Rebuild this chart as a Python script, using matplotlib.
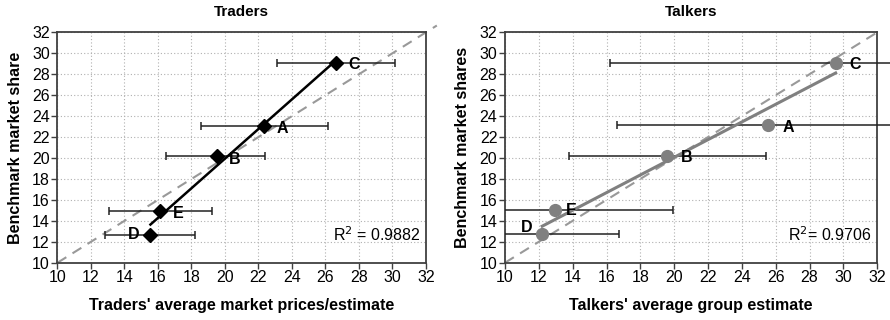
import numpy as np
import matplotlib
matplotlib.use("Agg")
import matplotlib.pyplot as plt
from matplotlib.patches import Rectangle

plt.rcParams['font.family'] = ['Liberation Sans', 'DejaVu Sans']

labels = ["A", "B", "C", "D", "E"]

# Traders
tr_x = [22.35, 19.5, 26.65, 15.55, 16.15]
tr_y = [23.1, 20.15, 29.1, 12.67, 14.97]
tr_lo = [18.55, 16.5, 23.1, 12.83, 13.05]
tr_hi = [26.14, 22.4, 30.14, 18.23, 19.24]
tr_r2 = "R$^2$ = 0.9882"

# Talkers
tk_x = [25.56, 19.55, 29.54, 12.2, 12.95]
tk_y = [23.15, 20.2, 29.1, 12.72, 15.0]
tk_lo = [16.62, 13.8, 16.18, 7.66, 5.95]
tk_hi = [34.5, 25.4, 42.9, 16.74, 19.95]
tk_r2 = "R$^2$= 0.9706"

ticks = list(range(10, 33, 2))

FS = 11.5

fig = plt.figure(figsize=(8.9, 3.2), dpi=100)
ax1 = fig.add_axes([0.0646, 0.179, 0.4140, 0.720])
ax2 = fig.add_axes([0.5674, 0.179, 0.4183, 0.720])

lbl_off = {
    "tr": {"A": (9, -2, "left"), "B": (9, -2, "left"), "C": (9, -1, "left"),
           "D": (-8, 0, "right"), "E": (9, -2, "left")},
    "tk": {"A": (10, -2, "left"), "B": (10, -1, "left"), "C": (10, -1, "left"),
           "D": (-7, 5, "right"), "E": (8, 0, "left")},
}

def setup(ax, title, xlabel, ylabel):
    ax.set_xlim(10, 32)
    ax.set_ylim(10, 32)
    ax.set_xticks(ticks)
    ax.set_yticks(ticks)
    ax.grid(True, color='#b0b0b0', linestyle=(0, (1, 2)), linewidth=0.8)
    ax.set_axisbelow(True)
    for s in ax.spines.values():
        s.set_color('#404040')
        s.set_linewidth(1.3)
    ax.tick_params(direction='out', length=4, width=1, color='#404040',
                   labelsize=FS, pad=1.5)
    ax.text(0.5, 1.088, title, transform=ax.transAxes, ha='center', va='center',
            fontsize=11, fontweight='bold')
    ax.set_xlabel(xlabel, fontsize=FS, fontweight='bold')
    ax.set_ylabel(ylabel, fontsize=FS, fontweight='bold')
    ax.xaxis.set_label_coords(0.5, -0.184)
    ax.yaxis.set_label_coords(-0.115, 0.5)
    ax.xaxis.label.set_va('center')
    ax.yaxis.label.set_va('center')

def panel(ax, x, y, lo, hi, key, marker, mcolor, ms, lcolor, lw, r2, diag_end):
    x = np.array(x); y = np.array(y)
    xerr = np.vstack([x - np.array(lo), np.array(hi) - x])
    eb = ax.errorbar(x, y, xerr=xerr, fmt='none', ecolor='#222222',
                     elinewidth=1.1, capsize=3, capthick=1.1, zorder=3)
    clip = Rectangle((0, -0.1), 3, 1.2, transform=ax.transAxes)
    for art in list(eb.lines[1]) + list(eb.lines[2]):
        art.set_clip_on(True)
        art.set_clip_path(clip)
    ax.plot([10, diag_end], [10, diag_end], linestyle=(0, (5, 3.5)),
            color='#999999', linewidth=1.5, clip_on=False, zorder=2)
    m, b = np.polyfit(x, y, 1)
    xs = np.array([x.min(), x.max()])
    ax.plot(xs, m * xs + b, color=lcolor, linewidth=lw, zorder=4)
    ax.plot(x, y, linestyle='none', marker=marker, color=mcolor,
            markersize=ms, zorder=5)
    for lab, xi, yi in zip(labels, x, y):
        dx, dy, ha = lbl_off[key][lab]
        ax.annotate(lab, (xi, yi), xytext=(dx, dy), textcoords='offset points',
                    ha=ha, va='center', fontsize=FS, fontweight='bold', zorder=6)
    ax.text(0.985, 0.12, r2, transform=ax.transAxes, ha='right', va='center',
            fontsize=FS)

setup(ax1, "Traders", "Traders' average market prices/estimate", "Benchmark market share")
setup(ax2, "Talkers", "Talkers' average group estimate", "Benchmark market shares")

panel(ax1, tr_x, tr_y, tr_lo, tr_hi, "tr", 'D', 'black', 7.2, 'black', 1.8, tr_r2, 32.65)
panel(ax2, tk_x, tk_y, tk_lo, tk_hi, "tk", 'o', '#808080', 8.5, '#808080', 2.2, tk_r2, 32)

fig.savefig("out.png", dpi=100)
